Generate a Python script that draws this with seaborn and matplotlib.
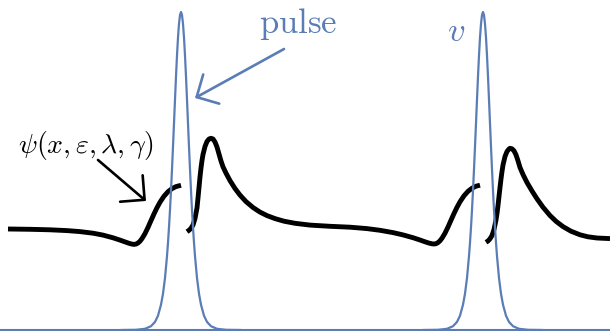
import matplotlib
matplotlib.use("Agg")
import matplotlib.pyplot as plt
import seaborn as sns

# values, in pixel units of the 610x331 picture (y grows downward)
pulse_centers = [181, 483]
pulse_dx = [-60, -45, -36, -30, -26, -23, -20, -18, -16, -14, -13, -12, -11, -10, -9, -8, -7, -6, -5, -4, -3, -2, -1,
            0, 1, 2, 3, 4, 5, 6, 7, 8, 9, 10, 11, 12, 13, 14, 16, 18, 20, 23, 26, 30, 36, 45, 60]
pulse_half = [12, 15.0, 23.8, 37.5, 55.5, 76.5, 99.6, 123.3, 146.7, 169.3, 190.6, 210.0, 227.3, 242.7, 256.1,
              278.0, 293.7, 304.7, 315.7, 321.9, 326.2, 328.8, 329.8, 330]
pulse_y = pulse_half[::-1] + pulse_half[1:]
pulse_base = 330

# psi, three pieces broken at the pulses
psi1_x = [8, 30, 50, 67, 80, 93, 103, 113, 120, 125, 129, 132, 134, 136, 138, 140, 142, 145, 148, 151, 154, 157,
          160, 164, 168, 172, 176, 181]
psi1_y = [229, 229.3, 229.8, 230.6, 231.6, 233.2, 235.1, 237.8, 240.1, 241.9, 243.3, 244.1, 244.4, 244.1, 243.0,
          241.2, 238.6, 233.6, 227.4, 220.6, 213.9, 207.7, 202.2, 196.2, 191.7, 188.6, 186.6, 185.3]
psi2_x = [187, 189, 191, 193, 195, 197, 198, 199, 200, 201, 202, 203, 205, 207, 209, 211, 213, 215, 217, 219, 221,
          223, 226, 230, 235, 240, 246, 253, 260, 267, 275, 284, 295, 310, 330, 350, 367, 380, 393, 403, 413, 420,
          425, 429, 432, 434, 436, 438, 440, 442, 445, 448, 451, 454, 457, 460, 464, 468, 472, 476, 480]
psi2_y = [231.7, 230.3, 228.3, 225, 218.5, 208, 198, 187.5, 177, 168, 160.5, 154.5, 146.5, 141.5, 139, 138.3, 139,
          142, 147, 154, 161, 166.8, 173.1, 180.6, 188.5, 195.1, 201.6, 207.5, 212.1, 215.6, 218.6, 221.2, 223.3,
          225.1, 226.3, 227.2, 228.6, 230.3, 232.6, 234.9, 237.7, 240.0, 241.8, 243.1, 243.8, 244.0, 243.7, 242.6,
          240.8, 238.2, 233.2, 227, 220.2, 213.5, 207.3, 201.8, 195.8, 191.3, 188.2, 186.2, 185.2]
psi3_x = [486, 488, 490, 492, 494, 496, 497, 498, 499, 500, 501, 502, 503, 505, 507, 509, 510, 512, 514, 516, 518,
          520, 523, 527, 532, 537, 543, 550, 556, 563, 571, 580, 588, 597, 610]
psi3_y = [242.3, 241, 238.8, 235.5, 229.5, 220, 213.5, 205.5, 196.5, 187.5, 179, 171.5, 165, 156.5, 151.5, 149,
          148.3, 148.8, 150.8, 154.8, 160.8, 167.5, 174.5, 182.5, 191, 198.8, 207.2, 215.5, 221.3, 226.6, 231.2,
          234.8, 236.8, 238, 238.6]

blue = "#5a7db6"

sns.set_style("white")
plt.rcParams["mathtext.fontset"] = "cm"
plt.rcParams["font.family"] = ["DejaVu Serif"]

fig = plt.figure(figsize=(6.1, 3.31), dpi=100)
ax = fig.add_axes([0, 0, 1, 1])

# black wave
for xs, ys in [(psi1_x, psi1_y), (psi2_x, psi2_y), (psi3_x, psi3_y)]:
    sns.lineplot(x=xs, y=ys, sort=False, estimator=None, color="black", lw=3.5, ax=ax,
                 solid_capstyle="butt", zorder=2)

# blue pulses on top
ax.axhline(pulse_base, color=blue, lw=1.5, zorder=3)
for c in pulse_centers:
    sns.lineplot(x=[c + d for d in pulse_dx], y=pulse_y, sort=False, estimator=None, color=blue, lw=1.6,
                 ax=ax, zorder=3)

# labels
ax.text(298, 24, r"$\mathrm{pulse}$", color=blue, fontsize=25, ha="center", va="center")
ax.text(456, 31, r"$v$", color=blue, fontsize=25, ha="center", va="center")
ax.text(86, 145, r"$\psi(x,\varepsilon,\lambda,\gamma)$", color="black", fontsize=20, ha="center", va="center")

head = "->,head_length=0.5,head_width=0.5"
ax.annotate("", xy=(195, 98), xytext=(284, 49),
            arrowprops=dict(arrowstyle=head, color=blue, lw=1.9, mutation_scale=24,
                            shrinkA=0, shrinkB=0, capstyle="round"))
ax.annotate("", xy=(146, 201), xytext=(98, 160),
            arrowprops=dict(arrowstyle=head, color="black", lw=1.9, mutation_scale=25,
                            shrinkA=0, shrinkB=0, capstyle="round"))

ax.set_xlim(0, 610)
ax.set_ylim(331, 0)
ax.axis("off")

fig.savefig("out.png", dpi=100)
